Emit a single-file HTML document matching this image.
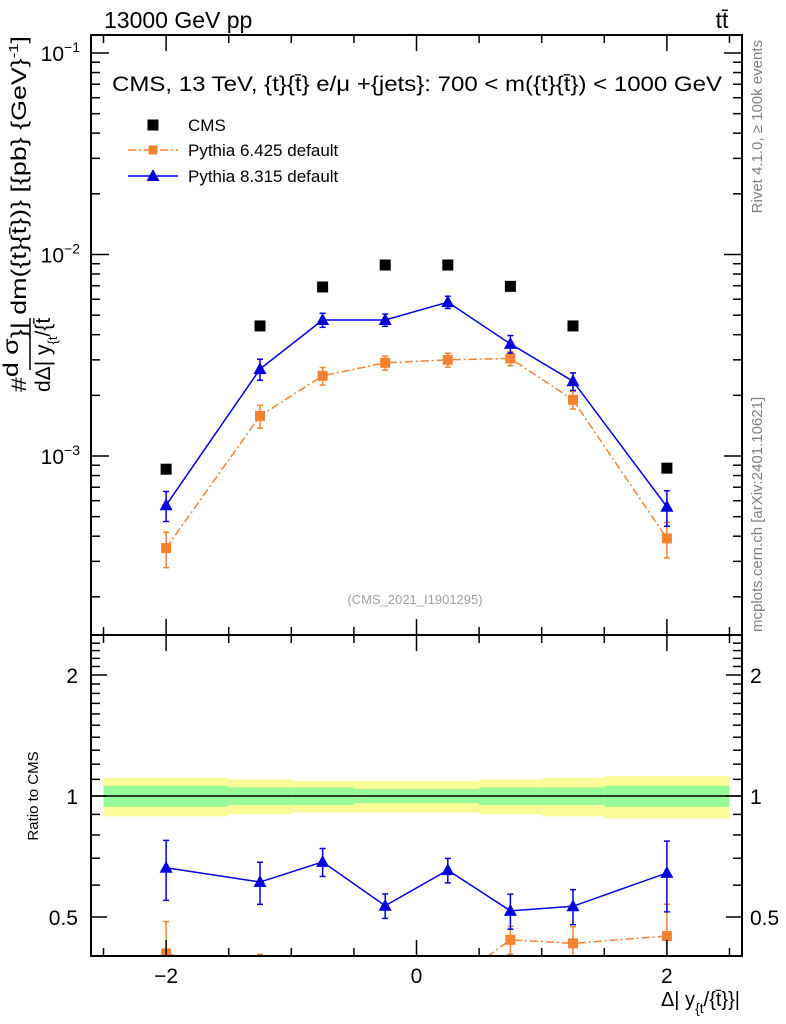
<!DOCTYPE html>
<html><head><meta charset="utf-8">
<style>
html,body{margin:0;padding:0;background:#fff;}
svg{display:block;font-family:"Liberation Sans",sans-serif;}
</style></head>
<body>
<svg id="chart" width="786" height="1024" viewBox="0 0 786 1024" xmlns="http://www.w3.org/2000/svg">
<defs>
<clipPath id="clipMain"><rect x="91" y="35" width="651" height="600"/></clipPath>
<clipPath id="clipRatio"><rect x="91" y="635" width="651" height="321"/></clipPath>
</defs>
<text x="104" y="28" font-size="23">13000 GeV pp</text>
<text x="722" y="28" font-size="23" text-anchor="middle">tt̄</text>
<text x="112" y="91" font-size="21" textLength="610" lengthAdjust="spacingAndGlyphs">CMS, 13 TeV, {t}{t̄} e/μ +{jets}: 700 &lt; m({t}{t̄}) &lt; 1000 GeV</text>
<text x="415" y="604" font-size="13" fill="#a0a0a0" text-anchor="middle">(CMS_2021_I1901295)</text>
<text transform="translate(762,40) rotate(-90)" font-size="15" fill="#808080" text-anchor="end">Rivet 4.1.0, ≥ 100k events</text>
<text transform="translate(762,632) rotate(-90)" font-size="15" fill="#808080">mcplots.cern.ch [arXiv:2401.10621]</text>
<text transform="translate(26,392) rotate(-90)" font-size="21" textLength="356" lengthAdjust="spacingAndGlyphs">#<tspan dy="-8">d σ</tspan><tspan dy="8">}| dm({t}{t̄})} [{pb} {GeV}</tspan><tspan dy="-8" font-size="13">-1</tspan><tspan dy="8">]</tspan></text>
<line x1="30" x2="30" y1="318" y2="370" stroke="#000" stroke-width="1.5"/>
<text transform="translate(50,392) rotate(-90)" font-size="21">dΔ| y<tspan dy="7" font-size="13">{t</tspan><tspan dy="-7">/{t̄</tspan></text>
<text transform="translate(38,796) rotate(-90)" font-size="15" text-anchor="middle">Ratio to CMS</text>
<text x="740" y="1006" font-size="20" text-anchor="end">Δ| y<tspan dy="7" font-size="14">{t</tspan><tspan dy="-7">/{t̄}}|</tspan></text>
<g id="main"></g>
<g id="ratio"></g>
<g id="axes"></g>
<g id="legend"></g>
</svg>
<script>
const xCenters = [-2, -1.25, -0.75, -0.25, 0.25, 0.75, 1.25, 2];
const binEdges = [-2.5, -1.5, -1, -0.5, 0, 0.5, 1, 1.5, 2.5];
const cmsValues = [8.6e-4, 4.42e-3, 6.9e-3, 8.87e-3, 8.87e-3, 6.95e-3, 4.42e-3, 8.7e-4];
const cmsStat = [0.06, 0.05, 0.05, 0.04, 0.04, 0.05, 0.05, 0.06];
const cmsTotal = [0.11, 0.10, 0.09, 0.09, 0.09, 0.10, 0.11, 0.12];
const py8Values = [5.7e-4, 2.7e-3, 4.73e-3, 4.73e-3, 5.8e-3, 3.6e-3, 2.35e-3, 5.6e-4];
const py8Err = [0.17, 0.12, 0.08, 0.07, 0.07, 0.1, 0.1, 0.2];
const py6Values = [3.49e-4, 1.58e-3, 2.5e-3, 2.9e-3, 3.0e-3, 3.05e-3, 1.9e-3, 3.9e-4];
const py6Err = [0.2, 0.13, 0.1, 0.08, 0.08, 0.08, 0.1, 0.2];
const xTicks = [-2, 0, 2];
const xTickLabels = ["−2", "0", "2"];
const ratioTicks = [0.5, 1, 2];
const ratioTickLabels = ["0.5", "1", "2"];

const NS = "http://www.w3.org/2000/svg";
const X0 = 91, X1 = 742, XMIN = -2.6, XMAX = 2.6;
const MT = 35, MB = 635, RB = 956;
const sx = v => X0 + (v - XMIN) / (XMAX - XMIN) * (X1 - X0);
const sy = v => 53 - (Math.log10(v) + 1) * 201.5;
const sr = v => 796 - Math.log2(v) * 121;

function mk(tag, attrs, parent) {
  const e = document.createElementNS(NS, tag);
  for (const k in attrs) e.setAttribute(k, attrs[k]);
  parent.appendChild(e);
  return e;
}
const main = document.getElementById('main');
const ratio = document.getElementById('ratio');
const axes = document.getElementById('axes');
const legend = document.getElementById('legend');

function sqMark(g, x, y, s, fill) { return mk('rect', {x: x - s/2, y: y - s/2, width: s, height: s, fill: fill}, g); }
function triMark(g, x, y, fill) { return mk('path', {d: `M${x} ${y-7}L${x+6.5} ${y+5}L${x-6.5} ${y+5}Z`, fill: fill}, g); }
function errBar(g, x, y1, y2, col) {
  mk('line', {x1: x, x2: x, y1: y1, y2: y2, stroke: col, 'stroke-width': 1.5}, g);
  mk('line', {x1: x-3, x2: x+3, y1: y1, y2: y1, stroke: col, 'stroke-width': 1.5}, g);
  mk('line', {x1: x-3, x2: x+3, y1: y2, y2: y2, stroke: col, 'stroke-width': 1.5}, g);
}

const mg = mk('g', {'clip-path': 'url(#clipMain)'}, main);
function series(g, vals, errs, col, dash, tri, yf, name) {
  const sg = mk('g', {}, g);
  
  
  const pts = vals.map((v, i) => `${sx(xCenters[i])},${yf(v)}`).join(' ');
  const pl = mk('polyline', {points: pts, fill: 'none', stroke: col, 'stroke-width': 1.5}, sg);
  if (dash) pl.setAttribute('stroke-dasharray', dash);
  vals.forEach((v, i) => {
    const x = sx(xCenters[i]);
    errBar(sg, x, yf(v * (1 + errs[i])), yf(v * (1 - errs[i])), col);
    if (tri) triMark(sg, x, yf(v), col); else sqMark(sg, x, yf(v), 10, col);
  });
}
series(mg, py6Values, py6Err, '#f58231', '8,3,2,3', false, sy, 'pythia6-series');
series(mg, py8Values, py8Err, '#0000e0', null, true, sy, 'pythia8-series');
const cg = mk('g', {}, mg);


cmsValues.forEach((v, i) => {
  const r = sqMark(cg, sx(xCenters[i]), sy(v), 11, '#000');
  
  
});

const rg = mk('g', {'clip-path': 'url(#clipRatio)'}, ratio);
cmsValues.forEach((v, i) => {
  const a = sx(binEdges[i]), b = sx(binEdges[i+1]);
  const y = mk('rect', {x: a, y: sr(1 + cmsTotal[i]), width: b - a, height: sr(1 - cmsTotal[i]) - sr(1 + cmsTotal[i]), fill: '#fafa96'}, rg);
  
  
  const gr = mk('rect', {x: a, y: sr(1 + cmsStat[i]), width: b - a, height: sr(1 - cmsStat[i]) - sr(1 + cmsStat[i]), fill: '#96fa96'}, rg);
  
  
});
mk('line', {x1: X0, x2: X1, y1: sr(1), y2: sr(1), stroke: '#000', 'stroke-width': 1.5}, rg);
series(rg, py6Values.map((v, i) => v / cmsValues[i]), py6Err, '#f58231', '8,3,2,3', false, sr, 'pythia6-ratio');
series(rg, py8Values.map((v, i) => v / cmsValues[i]), py8Err, '#0000e0', null, true, sr, 'pythia8-ratio');

mk('rect', {x: X0, y: MT, width: X1 - X0, height: MB - MT, fill: 'none', stroke: '#000', 'stroke-width': 2}, axes);
mk('rect', {x: X0, y: MB, width: X1 - X0, height: RB - MB, fill: 'none', stroke: '#000', 'stroke-width': 2}, axes);
for (let v = -2.5; v <= 2.51; v += 0.5) {
  const x = sx(v), major = Math.abs(v - Math.round(v)) < 1e-6 && Math.round(v) % 2 === 0;
  const L = major ? 16 : 8;
  [[MB, -1], [MT, 1], [RB, -1]].forEach(([y, d]) => mk('line', {x1: x, x2: x, y1: y, y2: y + d * L, stroke: '#000', 'stroke-width': 1.5}, axes));
  mk('line', {x1: x, x2: x, y1: MB, y2: MB + L, stroke: '#000', 'stroke-width': 1.5}, axes);
}
xTicks.forEach((v, i) => {
  const t = mk('text', {x: sx(v), y: 983, 'font-size': 21, 'text-anchor': 'middle'}, axes);
  t.textContent = xTickLabels[i];
  
  
});
for (let e = -4; e <= -1; e++) {
  for (let m = 1; m <= 9; m++) {
    const v = m * Math.pow(10, e), y = sy(v);
    if (y < MT || y > MB) continue;
    const L = m === 1 ? 18 : 9;
    mk('line', {x1: X0, x2: X0 + L, y1: y, y2: y, stroke: '#000', 'stroke-width': 1.5}, axes);
    mk('line', {x1: X1, x2: X1 - L, y1: y, y2: y, stroke: '#000', 'stroke-width': 1.5}, axes);
  }
}
[-1, -2, -3].forEach(e => {
  const t = mk('text', {x: 80, y: sy(Math.pow(10, e)) + 8, 'font-size': 21, 'text-anchor': 'end'}, axes);
  t.innerHTML = `10<tspan dy="-9" font-size="14">−${-e}</tspan>`;
  
  
});
for (let v = 0.4; v <= 2.5; v += 0.1) {
  const y = sr(v); if (y < MB || y > RB) continue;
  const major = ratioTicks.some(r => Math.abs(r - v) < 1e-6);
  const L = major ? 16 : 9;
  mk('line', {x1: X0, x2: X0 + L, y1: y, y2: y, stroke: '#000', 'stroke-width': 1.5}, axes);
  mk('line', {x1: X1, x2: X1 - L, y1: y, y2: y, stroke: '#000', 'stroke-width': 1.5}, axes);
}
ratioTicks.forEach((v, i) => {
  [[78, 'end'], [750, 'start']].forEach(([x, a]) => {
    const t = mk('text', {x: x, y: sr(v) + 8, 'font-size': 21, 'text-anchor': a}, axes);
    t.textContent = ratioTickLabels[i];
    
    
  });
});

const le = [['CMS', 125], ['Pythia 6.425 default', 150], ['Pythia 8.315 default', 176]];
sqMark(legend, 153, 125, 11, '#000');
mk('line', {x1: 128, x2: 178, y1: 150, y2: 150, stroke: '#f58231', 'stroke-width': 1.5, 'stroke-dasharray': '8,3,2,3'}, legend);
sqMark(legend, 153, 150, 9, '#f58231');
mk('line', {x1: 128, x2: 178, y1: 176, y2: 176, stroke: '#0000e0', 'stroke-width': 1.5}, legend);
triMark(legend, 153, 176, '#0000e0');
le.forEach(([s, y]) => {
  const t = mk('text', {x: 188, y: y + 6, 'font-size': 17}, legend);
  t.textContent = s;
  
  
});
</script>
</body></html>
